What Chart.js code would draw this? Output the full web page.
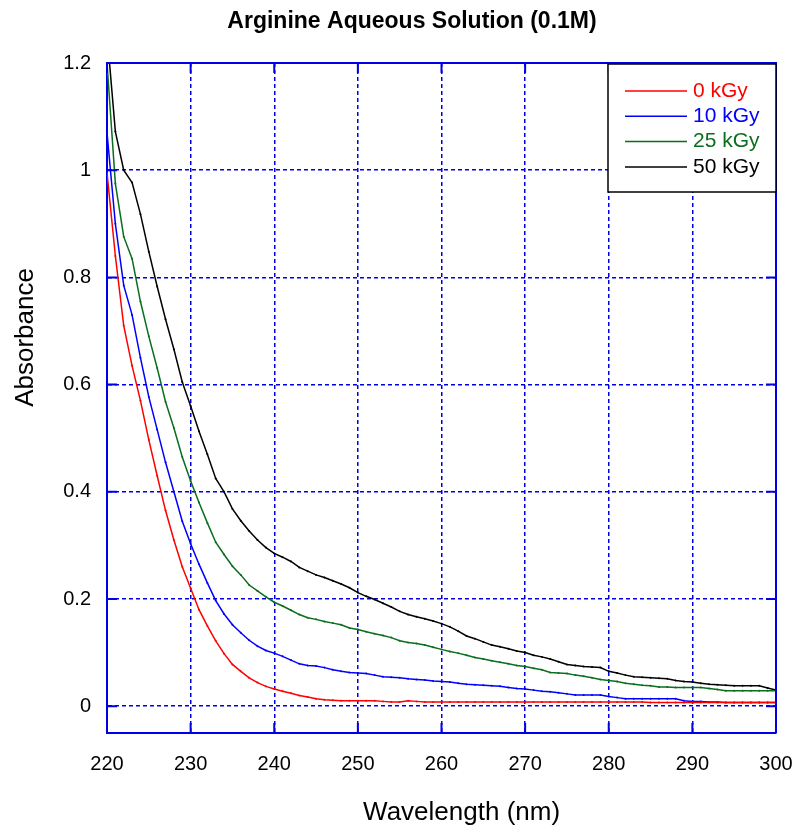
<!DOCTYPE html>
<html>
<head>
<meta charset="utf-8">
<script src="https://cdn.jsdelivr.net/npm/chart.js@4/dist/chart.umd.min.js"></script>
<style>
  html, body { margin: 0; padding: 0; background: #fff; }
  #wrap { width: 797px; height: 834px; }
</style>
</head>
<body>
<div id="wrap"><canvas id="myChart" width="797" height="834"></canvas></div>
<script>
// wavelength in nm, 1 nm steps
const wavelengths = [];
for (let w = 220; w <= 300; w++) wavelengths.push(w);

const labels = ['0 kGy', '10 kGy', '25 kGy', '50 kGy'];
const colors = ['#ff0000', '#0000ff', '#0a6e1e', '#000000'];

const abs0 = [
  0.995, 0.84, 0.71, 0.635, 0.57, 0.497, 0.43, 0.365, 0.31, 0.26,
  0.22, 0.18, 0.15, 0.122, 0.098, 0.078, 0.065, 0.053, 0.044, 0.037,
  0.032, 0.028, 0.024, 0.02, 0.017, 0.014, 0.012, 0.011, 0.01, 0.01,
  0.01, 0.01, 0.01, 0.009, 0.008, 0.008, 0.01, 0.009, 0.008, 0.008,
  0.008, 0.008, 0.008, 0.008, 0.008, 0.008, 0.008, 0.008, 0.008, 0.008,
  0.008, 0.008, 0.008, 0.008, 0.008, 0.008, 0.008, 0.008, 0.008, 0.008,
  0.008, 0.008, 0.008, 0.008, 0.008, 0.007, 0.007, 0.007, 0.007, 0.007,
  0.007, 0.007, 0.007, 0.007, 0.007, 0.007, 0.007, 0.007, 0.007, 0.007,
  0.007
];
const abs10 = [
  1.07, 0.9, 0.785, 0.73, 0.65, 0.577, 0.516, 0.455, 0.4, 0.345,
  0.303, 0.265, 0.23, 0.197, 0.172, 0.152, 0.137, 0.123, 0.112, 0.104,
  0.099, 0.093, 0.086, 0.079, 0.076, 0.075, 0.072, 0.068, 0.065, 0.063,
  0.062, 0.061, 0.058, 0.055, 0.054, 0.053, 0.051, 0.05, 0.049, 0.047,
  0.046, 0.045, 0.043, 0.041, 0.04, 0.039, 0.038, 0.037, 0.035, 0.033,
  0.032, 0.03, 0.028, 0.027, 0.025, 0.023, 0.021, 0.021, 0.021, 0.021,
  0.018, 0.016, 0.014, 0.014, 0.014, 0.014, 0.014, 0.014, 0.014, 0.01,
  0.009, 0.009, 0.008, 0.008, 0.007, 0.007, 0.007, 0.007, 0.007, 0.007,
  0.007
];
const abs25 = [
  1.2, 0.975, 0.876, 0.835, 0.755, 0.69, 0.631, 0.568, 0.519, 0.465,
  0.42, 0.38, 0.342, 0.306, 0.283, 0.261, 0.245, 0.226, 0.215, 0.204,
  0.194, 0.187, 0.179, 0.171, 0.165, 0.162, 0.158, 0.155, 0.152, 0.146,
  0.143, 0.139, 0.135, 0.132, 0.128, 0.122, 0.119, 0.117, 0.114, 0.11,
  0.106, 0.102, 0.099, 0.095, 0.091, 0.088, 0.085, 0.082, 0.079, 0.076,
  0.074, 0.071, 0.068, 0.063, 0.062, 0.061, 0.058, 0.056, 0.053, 0.05,
  0.048, 0.046, 0.043, 0.041, 0.039, 0.038, 0.036, 0.036, 0.035, 0.035,
  0.035, 0.035, 0.033, 0.031, 0.029, 0.029, 0.029, 0.029, 0.029, 0.029,
  0.029
];
const abs50 = [
  1.255, 1.072, 1.0, 0.977, 0.918, 0.848, 0.783, 0.722, 0.666, 0.605,
  0.56, 0.513, 0.47, 0.425, 0.4, 0.368, 0.346, 0.327, 0.31, 0.296,
  0.285, 0.278, 0.27, 0.259, 0.252, 0.245, 0.24, 0.234, 0.228, 0.221,
  0.212, 0.205, 0.199, 0.192, 0.185, 0.177, 0.171, 0.167, 0.163, 0.159,
  0.154, 0.148, 0.14, 0.131, 0.126, 0.12, 0.114, 0.111, 0.107, 0.103,
  0.1, 0.095, 0.092, 0.088, 0.083, 0.078, 0.076, 0.074, 0.073, 0.072,
  0.065, 0.062, 0.058, 0.055, 0.054, 0.053, 0.052, 0.051, 0.048, 0.046,
  0.045, 0.043, 0.041, 0.04, 0.039, 0.038, 0.038, 0.038, 0.038, 0.034,
  0.03
];
const series = [abs0, abs10, abs25, abs50];

const yTicks = [0, 0.2, 0.4, 0.6, 0.8, 1, 1.2];
const xTicks = [220, 230, 240, 250, 260, 270, 280, 290, 300];

const chartTitle = 'Arginine Aqueous Solution (0.1M)';
const xTitle = 'Wavelength (nm)';
const yTitle = 'Absorbance';

const axisBlue = '#0000e6';
const fontFamily = '"Liberation Sans", Arial, sans-serif';

// titles, solid frame on top/right, small inner ticks and the boxed legend
const framePlugin = {
  id: 'frame',
  afterDraw(chart) {
    const ctx = chart.ctx;
    const a = chart.chartArea;
    const xs = chart.scales.x, ys = chart.scales.y;
    ctx.save();
    ctx.strokeStyle = axisBlue;
    ctx.lineWidth = 2;
    ctx.beginPath();
    ctx.moveTo(a.left, a.top);
    ctx.lineTo(a.right, a.top);
    ctx.lineTo(a.right, a.bottom);
    ctx.stroke();

    ctx.beginPath();
    for (const v of yTicks) {
      const py = ys.getPixelForValue(v);
      ctx.moveTo(a.left, py); ctx.lineTo(a.left + 10, py);
      ctx.moveTo(a.right, py); ctx.lineTo(a.right - 10, py);
    }
    for (const v of xTicks) {
      const px = xs.getPixelForValue(v);
      ctx.moveTo(px, a.bottom); ctx.lineTo(px, a.bottom - 10);
      ctx.moveTo(px, a.top); ctx.lineTo(px, a.top + 10);
    }
    ctx.stroke();

    // titles (placed a little off centre, as in the original)
    ctx.fillStyle = '#000';
    ctx.textAlign = 'center';
    ctx.textBaseline = 'middle';
    ctx.font = 'bold 23px ' + fontFamily;
    ctx.fillText(chartTitle, 412, 22);
    ctx.font = '26px ' + fontFamily;
    ctx.fillText(xTitle, xs.getPixelForValue(262.4), 813);
    ctx.save();
    ctx.translate(26, ys.getPixelForValue(0.688));
    ctx.rotate(-Math.PI / 2);
    ctx.fillText(yTitle, 0, 0);
    ctx.restore();

    // legend
    const bw = 168, bh = 128;
    const bx = a.right - bw, by = a.top + 1;
    ctx.fillStyle = '#fff';
    ctx.fillRect(bx, by, bw, bh);
    ctx.strokeStyle = '#000';
    ctx.lineWidth = 1.5;
    ctx.strokeRect(bx, by, bw, bh);
    ctx.font = '21px ' + fontFamily;
    ctx.textAlign = 'left';
    ctx.textBaseline = 'middle';
    chart.data.datasets.forEach((ds, i) => {
      const ly = by + 27 + i * 25.3;
      ctx.strokeStyle = ds.borderColor;
      ctx.lineWidth = 1.5;
      ctx.beginPath();
      ctx.moveTo(bx + 17, ly);
      ctx.lineTo(bx + 79, ly);
      ctx.stroke();
      ctx.fillStyle = ds.borderColor;
      ctx.fillText(ds.label, bx + 85, ly);
    });
    ctx.restore();
  }
};

document.addEventListener('DOMContentLoaded', function () {
  const ctx = document.getElementById('myChart').getContext('2d');
  new Chart(ctx, {
    type: 'line',
    data: {
      datasets: series.map((vals, i) => ({
        label: labels[i],
        data: wavelengths.map((w, j) => ({x: w, y: vals[j]})),
        borderColor: colors[i],
        backgroundColor: colors[i],
        borderWidth: 1.5,
        pointRadius: 1,
        pointBorderWidth: 0,
        fill: false,
        tension: 0
      }))
    },
    options: {
      responsive: false,
      animation: false,
      layout: {padding: {left: 0, right: 21, top: 63, bottom: 0}},
      plugins: {
        legend: {display: false},
        tooltip: {enabled: false},
        title: {display: false}
      },
      scales: {
        x: {
          type: 'linear',
          min: 220,
          max: 300,
          afterFit(scale) {
            scale.height = 101;
            scale.paddingLeft = 0;
            scale.paddingRight = 0;
          },
          afterBuildTicks(scale) { scale.ticks = xTicks.map(v => ({value: v})); },
          ticks: {
            color: '#000',
            padding: 19,
            font: {family: fontFamily, size: 20},
            maxRotation: 0
          },
          grid: {color: axisBlue, lineWidth: 1.5, drawTicks: false},
          border: {display: true, color: axisBlue, width: 2, dash: [4, 3]},
          title: {display: false}
        },
        y: {
          min: -0.05,
          max: 1.2,
          afterFit(scale) {
            scale.width = 107;
            scale.paddingTop = 0;
            scale.paddingBottom = 0;
          },
          afterBuildTicks(scale) { scale.ticks = yTicks.map(v => ({value: v})); },
          ticks: {
            color: '#000',
            padding: 16,
            font: {family: fontFamily, size: 20},
            callback: v => String(+v.toFixed(2))
          },
          grid: {color: axisBlue, lineWidth: 1.5, drawTicks: false},
          border: {display: true, color: axisBlue, width: 2, dash: [4, 3]},
          title: {display: false}
        }
      }
    },
    plugins: [framePlugin]
  });
});
</script>
</body>
</html>
